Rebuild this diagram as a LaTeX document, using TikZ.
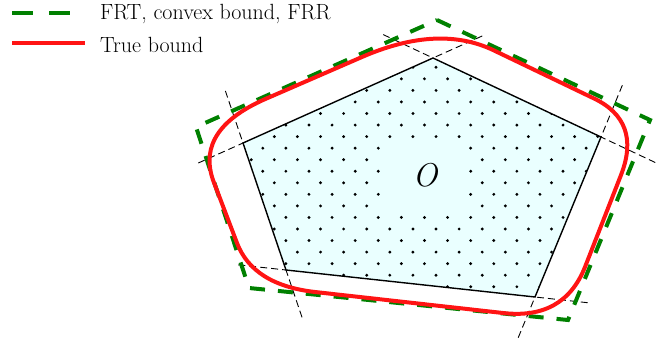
\documentclass[tikz,border=0pt]{standalone}
\usepackage{fontspec}
\usetikzlibrary{calc}

\definecolor{regionfill}{RGB}{234,255,255}
\definecolor{frtgreen}{RGB}{0,128,0}
\definecolor{truered}{RGB}{255,20,20}

\begin{document}
\begin{tikzpicture}[
    x=1pt, y=-1pt,
    edge/.style={draw, line width=1.4pt, line join=miter},
    extline/.style={line width=0.9pt, dash pattern=on 7pt off 4pt},
    frt/.style={draw=frtgreen, line width=4pt, dash pattern=on 15pt off 13pt},
    truebound/.style={draw=truered, line width=4pt, line join=round},
    legtext/.style={anchor=base west, inner sep=0pt, font=\fontsize{22}{26}\selectfont}
]
\useasboundingbox (0,0) rectangle (672,345);

% Legend
\coordinate (frtA) at (12,13);
\coordinate (frtB) at (70,13);
\draw[frt, dash pattern=on 20.5pt off 16.5pt] (frtA) -- (frtB);
\node[legtext] (frtlabel) at (100,20) {FRT, convex bound, FRR};
\coordinate (trueA) at (12,43);
\coordinate (trueB) at (85,43);
\draw[truebound] (trueA) -- (trueB);
\node[legtext] (truelabel) at (100,53) {True bound};

% Region O
\coordinate (pl) at (243,143);
\coordinate (pt) at (433,58);
\coordinate (pr) at (601,137);
\coordinate (pbr) at (535,297);
\coordinate (pbl) at (286,270);
\fill[regionfill] (pl) -- (pt) -- (pr) -- (pbr) -- (pbl) -- cycle;
\begin{scope}
  \clip (pl) -- (pt) -- (pr) -- (pbr) -- (pbl) -- cycle;
  \foreach \k in {-1,...,20}
    \foreach \i in {-9,...,9}
      \fill ({436+23.1*\i-11.55*mod(\k,2)},{67.3+11.55*\k}) circle (1.6pt);
\end{scope}
\node[fill=regionfill, minimum width=82, minimum height=70, inner sep=0pt] (olabel) at (425,175) {\fontsize{33}{36}\selectfont\itshape O};
\draw[edge] (pl) -- (pt) -- (pr) -- (pbr) -- (pbl) -- cycle;

% Edge lines extended
\foreach \a/\b/\la/\lb in {pl/pt/49/54, pt/pr/55/60, pr/pbr/56/44, pbr/pbl/53/48, pbl/pl/50/55}
  \draw[extline] ($(\a)!-\la pt!(\b)$) -- (\a) ($(\b)!-\lb pt!(\a)$) -- (\b);

% FRT, convex bound, FRR
\draw[frt] (437,20) -- (650,120) -- (568,320) -- (249,288) -- (196,127) -- cycle;

% True bound
\draw[truebound] (270,97) -- (362,57)
  .. controls (412.7,35) and (456.3,32.7) .. (493,50) -- (593,98)
  .. controls (625.7,113.3) and (635,139) .. (621,175) -- (585,267)
  .. controls (571,302.3) and (543.7,317.7) .. (503,313) -- (315,292)
  .. controls (273.7,287.3) and (247.7,271) .. (237,243) -- (213,180)
  .. controls (201,145.3) and (220,117.7) .. (270,97) -- cycle;
\end{tikzpicture}
\end{document}
